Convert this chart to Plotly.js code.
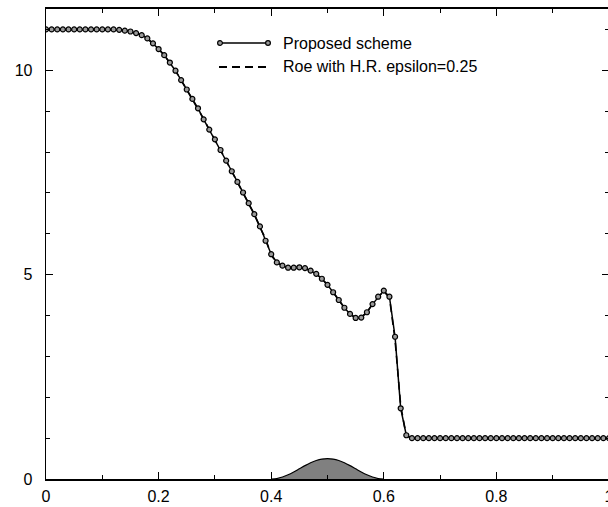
<!DOCTYPE html>
<html>
<head>
<meta charset="utf-8">
<script src="https://cdn.plot.ly/plotly-3.0.1.min.js"></script>
<style>
html,body{margin:0;padding:0;overflow:hidden;background:#fff;width:608px;height:507px;}
#chart{width:612px;height:507px;}
</style>
</head>
<body>
<div id="chart"></div>
<script>
// ---- data ----
const xGrid = [];
for (let k = 0; k <= 100; k++) xGrid.push(+(k / 100).toFixed(2));

const proposedH = [
  11.0, 11.0, 11.0, 11.0, 11.0, 11.0, 11.0, 11.0, 11.0, 11.0,   // 0.00-0.09
  11.0, 11.0, 11.0, 10.99, 10.97, 10.95, 10.91, 10.86, 10.78, 10.66, // 0.10-0.19
  10.52, 10.37, 10.19, 9.99, 9.76, 9.53, 9.30, 9.07, 8.80, 8.55,  // 0.20-0.29
  8.31, 8.05, 7.79, 7.53, 7.27, 7.01, 6.75, 6.48, 6.18, 5.83,     // 0.30-0.39
  5.50, 5.30, 5.22, 5.17, 5.17, 5.18, 5.16, 5.10, 5.02, 4.90,     // 0.40-0.49
  4.75, 4.57, 4.38, 4.19, 4.04, 3.94, 3.95, 4.08, 4.28, 4.46,     // 0.50-0.59
  4.61, 4.46, 3.48, 1.73, 1.07, 1.0, 1.0, 1.0, 1.0, 1.0,          // 0.60-0.69
  1.0, 1.0, 1.0, 1.0, 1.0, 1.0, 1.0, 1.0, 1.0, 1.0,               // 0.70-0.79
  1.0, 1.0, 1.0, 1.0, 1.0, 1.0, 1.0, 1.0, 1.0, 1.0,               // 0.80-0.89
  1.0, 1.0, 1.0, 1.0, 1.0, 1.0, 1.0, 1.0, 1.0, 1.0,               // 0.90-0.99
  1.0                                                             // 1.00
];

const roeH = [
  11.0, 11.0, 11.0, 11.0, 11.0, 11.0, 11.0, 11.0, 11.0, 11.0,
  11.0, 11.0, 11.0, 10.99, 10.97, 10.95, 10.91, 10.86, 10.78, 10.66,
  10.52, 10.37, 10.19, 9.99, 9.76, 9.53, 9.30, 9.07, 8.81, 8.55,
  8.31, 8.05, 7.79, 7.53, 7.27, 7.01, 6.75, 6.47, 6.16, 5.88,
  5.48, 5.29, 5.22, 5.17, 5.17, 5.18, 5.16, 5.10, 5.02, 4.90,
  4.75, 4.57, 4.38, 4.19, 4.04, 3.94, 3.96, 4.08, 4.28, 4.46,
  4.59, 4.44, 3.40, 1.80, 1.05, 1.0, 1.0, 1.0, 1.0, 1.0,
  1.0, 1.0, 1.0, 1.0, 1.0, 1.0, 1.0, 1.0, 1.0, 1.0,
  1.0, 1.0, 1.0, 1.0, 1.0, 1.0, 1.0, 1.0, 1.0, 1.0,
  1.0, 1.0, 1.0, 1.0, 1.0, 1.0, 1.0, 1.0, 1.0, 1.0,
  1.0
];

const bumpX = [0.40, 0.41, 0.42, 0.43, 0.44, 0.45, 0.46, 0.47, 0.48, 0.49, 0.50,
               0.51, 0.52, 0.53, 0.54, 0.55, 0.56, 0.57, 0.58, 0.59, 0.60];
const bumpY = [0.0, 0.012, 0.048, 0.103, 0.173, 0.25, 0.327, 0.397, 0.452, 0.488, 0.5,
               0.488, 0.452, 0.397, 0.327, 0.25, 0.173, 0.103, 0.048, 0.012, 0.0];

const seriesNames = ["Proposed scheme", "Roe with H.R. epsilon=0.25"];
const xTickVals = [0, 0.2, 0.4, 0.6, 0.8, 1];
const xTickText = ["0", "0.2", "0.4", "0.6", "0.8", "1"];
const yTickVals = [0, 5, 10];
const yTickText = ["0", "5", "10"];

// ---- layout geometry (pixels) ----
const W = 612, H = 507;
const M = {l: 46, r: 3, t: 9, b: 28};
const pw = W - M.l - M.r, ph = H - M.t - M.b;
const px2paper = (px) => (px - M.l) / pw;
const py2paper = (py) => (H - M.b - py) / ph;

const font = {family: "Liberation Sans, Arial, sans-serif", size: 16, color: "#000"};
const markerStyle = {symbol: "circle", size: 5, color: "#9a9a9a", line: {color: "#000", width: 1.2}};

const traces = [
  {
    x: bumpX, y: bumpY, type: "scatter", mode: "lines",
    fill: "tozeroy", fillcolor: "#808080",
    line: {color: "#000", width: 1.2, shape: "spline", smoothing: 0.6},
    showlegend: false, hoverinfo: "skip"
  },
  {
    x: xGrid, y: roeH, type: "scatter", mode: "lines", name: seriesNames[1],
    line: {color: "#000", width: 1.6, dash: "8px,5px"},
    showlegend: false
  },
  {
    x: xGrid, y: proposedH, type: "scatter", mode: "lines+markers", name: seriesNames[0],
    line: {color: "#000", width: 1.5},
    marker: markerStyle,
    showlegend: false
  }
];

// manual gnuplot-style key
const legY1 = 43, legY2 = 67, legX0 = 220, legX1 = 268, legTextX = 281;
const shapes = [
  {type: "line", xref: "paper", yref: "paper",
   x0: px2paper(legX0), x1: px2paper(legX1), y0: py2paper(legY1), y1: py2paper(legY1),
   line: {color: "#000", width: 1.5}},
  {type: "line", xref: "paper", yref: "paper",
   x0: px2paper(legX0 - 1), x1: px2paper(legX1 + 1), y0: py2paper(legY2), y1: py2paper(legY2),
   line: {color: "#000", width: 1.8, dash: "8px,5px"}}
];
[legX0, legX1].forEach(px => {
  shapes.push({type: "circle", xref: "paper", yref: "paper",
    xsizemode: "pixel", ysizemode: "pixel",
    xanchor: px2paper(px), yanchor: py2paper(legY1),
    x0: -2.4, x1: 2.4, y0: -2.4, y1: 2.4,
    fillcolor: "#9a9a9a", line: {color: "#000", width: 1.2}});
});

const annotations = [
  {xref: "paper", yref: "paper", x: px2paper(legTextX), y: py2paper(legY1),
   xanchor: "left", yanchor: "middle", text: seriesNames[0], showarrow: false, font: font},
  {xref: "paper", yref: "paper", x: px2paper(legTextX), y: py2paper(legY2),
   xanchor: "left", yanchor: "middle", text: seriesNames[1], showarrow: false, font: font}
];

const layout = {
  width: W, height: H,
  margin: M,
  paper_bgcolor: "#fff", plot_bgcolor: "#fff",
  font: font,
  showlegend: false,
  xaxis: {
    range: [0, 1], tickvals: xTickVals, ticktext: xTickText,
    ticks: "inside", ticklen: 7, tickwidth: 1, tickcolor: "#000",
    minor: {dtick: 0.1, tick0: 0, ticks: "inside", ticklen: 4, tickwidth: 1, tickcolor: "#000"},
    showline: true, linecolor: "#000", linewidth: 1.6, mirror: "ticks",
    showgrid: false, zeroline: false, tickfont: font, ticklabelstandoff: 2,
    ticklabeloverflow: "allow"
  },
  yaxis: {
    range: [0, 11.5], tickvals: yTickVals, ticktext: yTickText,
    ticks: "inside", ticklen: 7, tickwidth: 1, tickcolor: "#000",
    minor: {dtick: 1, tick0: 0, ticks: "inside", ticklen: 4, tickwidth: 1, tickcolor: "#000"},
    showline: true, linecolor: "#000", linewidth: 1.3, mirror: "ticks",
    showgrid: false, zeroline: false, tickfont: font, ticklabelstandoff: 9
  },
  shapes: shapes,
  annotations: annotations
};

Plotly.newPlot("chart", traces, layout, {staticPlot: true, displayModeBar: false});
</script>
</body>
</html>
